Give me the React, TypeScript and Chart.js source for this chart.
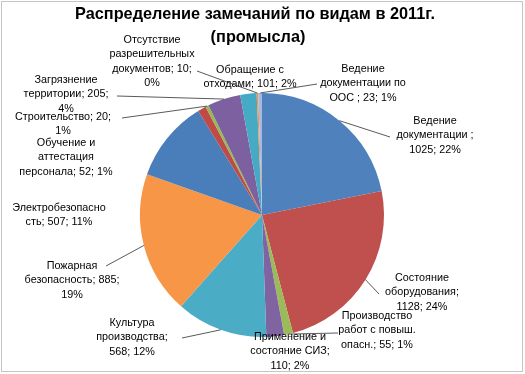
import React, { useEffect, useRef } from "react";
import { Chart, registerables } from "chart.js";

Chart.register(...registerables);

const titleLines = ["Распределение замечаний по видам в 2011г.", "(промысла)"];

const categories = [
  "Ведение документации ",
  "Состояние оборудования",
  "Производство работ с повыш. опасн.",
  "Применение и состояние СИЗ",
  "Культура производства",
  "Пожарная безопасность",
  "Электробезопасность",
  "Обучение и аттестация персонала",
  "Строительство",
  "Загрязнение территории",
  "Обращение с отходами",
  "Отсутствие разрешительных документов",
  "Ведение документации по ООС ",
];

const values = [1025, 1128, 55, 110, 568, 885, 507, 52, 20, 205, 101, 10, 23];
const percents = [22, 24, 1, 2, 12, 19, 11, 1, 1, 4, 2, 0, 1];

const colors = [
  "#4F81BD", "#C0504D", "#9BBB59", "#8064A2", "#4BACC6", "#F79646",
  "#4A7EBB", "#BE4B48", "#98B954", "#7D60A0", "#46AAC5", "#F69240", "#A7B9E3",
];

// label layout: center x, first-line y, line split char counts, leader anchor (or null)
const labelLayout = [
  { x: 435, y: 121, counts: [8, 15], anchor: [390, 137] },
  { x: 422, y: 278, counts: [10, 14], anchor: [379, 294] },
  { x: 377, y: 316, counts: [13, 15], anchor: [338, 333] },
  { x: 290, y: 337, counts: [13, 15], anchor: null },
  { x: 132, y: 323, counts: [9, 14], anchor: [182, 338] },
  { x: 72, y: 266, counts: [9, 19], anchor: [106, 266] },
  { x: 59, y: 208, counts: [16], anchor: null },
  { x: 66, y: 143, counts: [11, 11], anchor: null },
  { x: 63, y: 117, counts: [19], anchor: [122, 118] },
  { x: 66, y: 80, counts: [12, 17], anchor: [117, 96] },
  { x: 250, y: 70, counts: [12], anchor: null },
  { x: 152, y: 40, counts: [11, 15, 16], anchor: [197, 71] },
  { x: 363, y: 69, counts: [8, 16], anchor: [317, 84] },
];

function splitByCounts(text: string, counts: number[]): string[] {
  const out: string[] = [];
  let pos = 0;
  for (const c of counts) {
    out.push(text.slice(pos, pos + c).trim());
    pos += c;
  }
  out.push(text.slice(pos).trim());
  return out.filter((s) => s.length > 0);
}

const labelPlugin = {
  id: "excelLabels",
  afterDraw(chart: any) {
    const ctx = chart.ctx as CanvasRenderingContext2D;
    ctx.save();
    // border
    ctx.strokeStyle = "#8a8a8a";
    ctx.lineWidth = 1;
    ctx.setLineDash([1, 1]);
    ctx.strokeRect(1.5, 1.5, 521, 370);
    ctx.setLineDash([]);

    // title
    ctx.fillStyle = "#000";
    ctx.textAlign = "center";
    ctx.textBaseline = "middle";
    ctx.font = "bold 16.3px 'Liberation Sans', Arial, sans-serif";
    ctx.fillText(titleLines[0], 255, 15);
    ctx.fillText(titleLines[1], 258, 38);

    const meta = chart.getDatasetMeta(0);
    const lineH = 14.5;
    ctx.font = "10.8px 'Liberation Sans', Arial, sans-serif";
    meta.data.forEach((arc: any, i: number) => {
      const p = arc.getProps(["x", "y", "startAngle", "endAngle", "outerRadius"], true);
      const mid = (p.startAngle + p.endAngle) / 2;
      const px = p.x + Math.cos(mid) * p.outerRadius;
      const py = p.y + Math.sin(mid) * p.outerRadius;
      const lay = labelLayout[i];
      if (lay.anchor) {
        ctx.strokeStyle = "#303030";
        ctx.lineWidth = 0.8;
        ctx.beginPath();
        ctx.moveTo(lay.anchor[0], lay.anchor[1]);
        ctx.lineTo(px, py);
        ctx.stroke();
      }
      const text = `${categories[i]}; ${values[i]}; ${percents[i]}%`;
      const lines = splitByCounts(text, lay.counts);
      ctx.fillStyle = "#000";
      lines.forEach((ln, k) => {
        ctx.fillText(ln, lay.x, lay.y + k * lineH);
      });
    });
    ctx.restore();
  },
};

export default function App() {
  const ref = useRef<HTMLCanvasElement | null>(null);
  useEffect(() => {
    if (!ref.current) return;
    const chart = new Chart(ref.current, {
      type: "pie",
      data: {
        labels: categories,
        datasets: [
          {
            data: values,
            backgroundColor: colors,
            borderWidth: 0,
          },
        ],
      },
      options: {
        responsive: false,
        animation: false,
        layout: { padding: { left: 140, right: 141, top: 93, bottom: 37 } },
        plugins: {
          legend: { display: false },
          title: { display: false },
          tooltip: { enabled: false },
        },
      },
      plugins: [labelPlugin],
    });
    return () => chart.destroy();
  }, []);
  return (
    <div style={{ position: "absolute", left: 0, top: 0, width: 525, height: 374, background: "#fff" }}>
      <canvas ref={ref} width={525} height={374} style={{ display: "block" }} />
    </div>
  );
}
